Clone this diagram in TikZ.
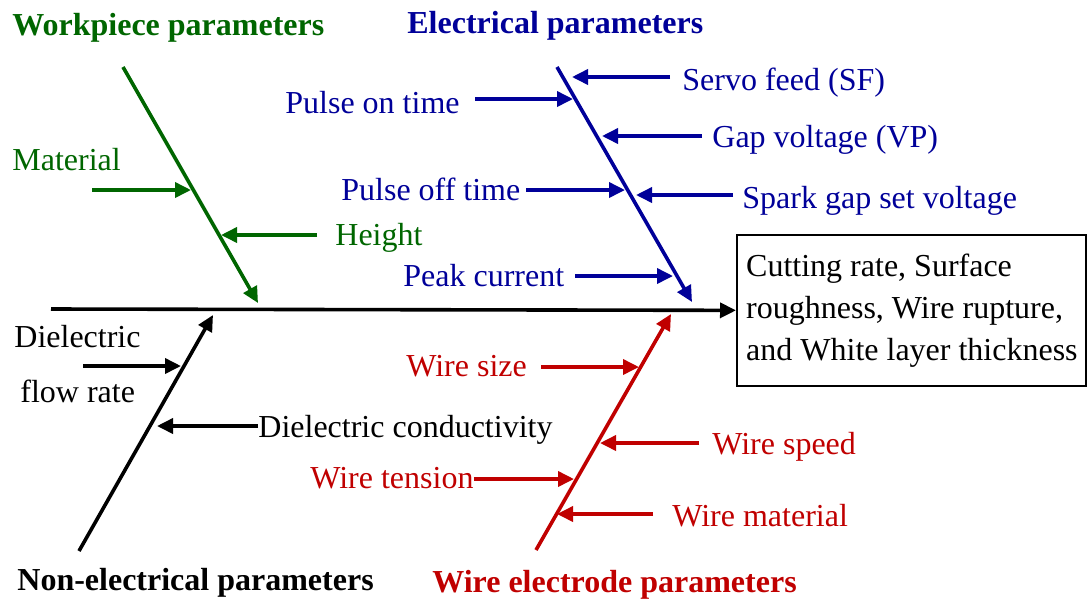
\documentclass[tikz,border=0pt]{standalone}
\usepackage{fontspec}
\setmainfont{Liberation Serif}
\usetikzlibrary{arrows.meta,positioning}
\definecolor{wpgreen}{RGB}{0,102,0}
\definecolor{elblue}{RGB}{0,0,153}
\definecolor{wirered}{RGB}{192,0,0}

\begin{document}
\begin{tikzpicture}[x=0.5pt,y=-0.5pt,
  every node/.style={font=\fontsize{16}{21}\selectfont,inner sep=0pt},
  bone/.style={line width=1.8pt,-{Triangle[length=8pt,width=7.5pt]}},
  cause/.style={line width=1.8pt,-{Triangle[length=8pt,width=7.5pt]}},
  title/.style={anchor=base west,font=\fontsize{16}{21}\selectfont\bfseries},
  lbl/.style={anchor=base west}]
  \useasboundingbox (0,0) rectangle (1087,601);

  % effect box and spine
  \node[draw,line width=1.2pt,align=left,anchor=north west,inner xsep=4.5pt,
    minimum height=75.5pt] (effect) at (736,234)
    {Cutting rate, Surface\\roughness, Wire rupture,\\and White layer thickness};
  \coordinate (sp) at (51,309);
  \draw[bone] (sp) -- (effect);

  % workpiece parameters
  \node[title,wpgreen] (wp) at (12,35) {Workpiece parameters};
  \coordinate (wp-s) at (123,67);
  \coordinate (wp-e) at (258,303);
  \draw[bone,wpgreen] (wp-s) -- (wp-e);

  \node[lbl,wpgreen] (mat) at (12,170) {Material};
  \coordinate (mat-a) at (92,190);
  \coordinate (mat-b) at (191,190);
  \draw[cause,wpgreen] (mat-a) -- (mat-b);

  \node[lbl,wpgreen] (hgt) at (335,245) {Height};
  \coordinate (hgt-a) at (317,235);
  \coordinate (hgt-b) at (221,235);
  \draw[cause,wpgreen] (hgt-a) -- (hgt-b);

  % electrical parameters
  \node[title,elblue] (el) at (407,33) {Electrical parameters};
  \coordinate (el-s) at (557,67);
  \coordinate (el-e) at (692,302);
  \draw[bone,elblue] (el-s) -- (el-e);

  \node[lbl,elblue] (sf) at (682,90) {Servo feed (SF)};
  \coordinate (sf-a) at (670,77);
  \coordinate (sf-b) at (572,77);
  \draw[cause,elblue] (sf-a) -- (sf-b);

  \node[lbl,elblue] (pon) at (285,113) {Pulse on time};
  \coordinate (pon-a) at (475,99);
  \coordinate (pon-b) at (573,99);
  \draw[cause,elblue] (pon-a) -- (pon-b);

  \node[lbl,elblue] (gv) at (712,147) {Gap voltage (VP)};
  \coordinate (gv-a) at (702,136);
  \coordinate (gv-b) at (602,136);
  \draw[cause,elblue] (gv-a) -- (gv-b);

  \node[lbl,elblue] (poff) at (341,200) {Pulse off time};
  \coordinate (poff-a) at (526,190);
  \coordinate (poff-b) at (625,190);
  \draw[cause,elblue] (poff-a) -- (poff-b);

  \node[lbl,elblue] (sg) at (742,208) {Spark gap set voltage};
  \coordinate (sg-a) at (733,195);
  \coordinate (sg-b) at (636,195);
  \draw[cause,elblue] (sg-a) -- (sg-b);

  \node[lbl,elblue] (pk) at (403,286) {Peak current};
  \coordinate (pk-a) at (575,276);
  \coordinate (pk-b) at (673,276);
  \draw[cause,elblue] (pk-a) -- (pk-b);

  % non-electrical parameters
  \node[title] (ne) at (17,590) {Non-electrical parameters};
  \coordinate (ne-s) at (79,551);
  \coordinate (ne-e) at (213,315);
  \draw[bone] (ne-s) -- (ne-e);

  \node[lbl] (dfr1) at (14,347) {Dielectric};
  \node[lbl] (dfr2) at (20,402) {flow rate};
  \coordinate (dfr-a) at (83,366);
  \coordinate (dfr-b) at (181,366);
  \draw[cause] (dfr-a) -- (dfr-b);

  \node[lbl] (dc) at (258,437) {Dielectric conductivity};
  \coordinate (dc-b) at (157,426);
  \draw[cause] (dc.west|-dc-b) -- (dc-b);

  % wire electrode parameters
  \node[title,wirered] (we) at (432,592) {Wire electrode parameters};
  \coordinate (we-s) at (536,550);
  \coordinate (we-e) at (671,314);
  \draw[bone,wirered] (we-s) -- (we-e);

  \node[lbl,wirered] (ws) at (406,376) {Wire size};
  \coordinate (ws-a) at (541,367);
  \coordinate (ws-b) at (639,367);
  \draw[cause,wirered] (ws-a) -- (ws-b);

  \node[lbl,wirered] (wsp) at (712,454) {Wire speed};
  \coordinate (wsp-a) at (699,443);
  \coordinate (wsp-b) at (600,443);
  \draw[cause,wirered] (wsp-a) -- (wsp-b);

  \node[lbl,wirered] (wt) at (310,488) {Wire tension};
  \coordinate (wt-b) at (574,479);
  \draw[cause,wirered] (wt.east|-wt-b) -- (wt-b);

  \node[lbl,wirered] (wm) at (672,526) {Wire material};
  \coordinate (wm-a) at (653,514);
  \coordinate (wm-b) at (557,514);
  \draw[cause,wirered] (wm-a) -- (wm-b);
\end{tikzpicture}
\end{document}
